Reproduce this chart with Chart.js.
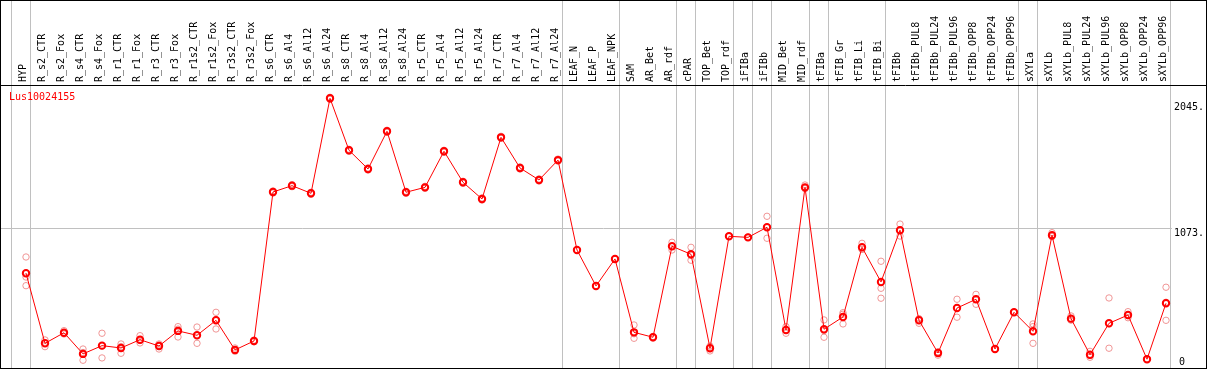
<!DOCTYPE html>
<html>
<head>
<meta charset="utf-8">
<script src="https://cdn.jsdelivr.net/npm/chart.js@4/dist/chart.umd.min.js"></script>
<style>
  html, body { margin: 0; padding: 0; background: #fff; }
  #box { position: absolute; left: 0; top: 0; width: 1205px; height: 367px; border: 1px solid #000; }
</style>
</head>
<body>
<div id="box"><canvas id="chart"></canvas></div>
<script>
// samples, left to right
const cats = ['HYP', 'R_s2_CTR', 'R_s2_Fox', 'R_s4_CTR', 'R_s4_Fox', 'R_r1_CTR', 'R_r1_Fox', 'R_r3_CTR', 'R_r3_Fox',
    'R_r1s2_CTR', 'R_r1s2_Fox', 'R_r3s2_CTR', 'R_r3s2_Fox', 'R_s6_CTR', 'R_s6_Al4', 'R_s6_Al12', 'R_s6_Al24',
    'R_s8_CTR', 'R_s8_Al4', 'R_s8_Al12', 'R_s8_Al24', 'R_r5_CTR', 'R_r5_Al4', 'R_r5_Al12', 'R_r5_Al24',
    'R_r7_CTR', 'R_r7_Al4', 'R_r7_Al12', 'R_r7_Al24', 'LEAF_N', 'LEAF_P', 'LEAF_NPK', 'SAM', 'AR_Bet', 'AR_rdf',
    'cPAR', 'TOP_Bet', 'TOP_rdf', 'iFIBa', 'iFIBb', 'MID_Bet', 'MID_rdf', 'tFIBa', 'tFIB_Gr', 'tFIB_Li', 'tFIB_Bi',
    'tFIBb', 'tFIBb_PUL8', 'tFIBb_PUL24', 'tFIBb_PUL96', 'tFIBb_OPP8', 'tFIBb_OPP24', 'tFIBb_OPP96',
    'sXYLa', 'sXYLb', 'sXYLb_PUL8', 'sXYLb_PUL24', 'sXYLb_PUL96', 'sXYLb_OPP8', 'sXYLb_OPP24', 'sXYLb_OPP96'];

// mean expression (red line)
const means = [725, 183, 265, 101, 165, 147, 211, 162, 279, 245, 361, 132, 201,
    1354, 1403, 1344, 2079, 1677, 1532, 1824, 1352, 1390, 1669, 1429, 1300, 1777, 1540, 1447, 1601,
    905, 627, 836, 268, 230, 934, 872, 145, 1011, 1003, 1081, 286, 1390, 292, 387, 926, 658,
    1058, 361, 108, 456, 524, 139, 423, 276, 1019, 374, 95, 338, 402, 60, 493];

// replicates (pale circles)
const repA = [851, 209, 281, 139, 261, 178, 242, 178, 312, 309, 423, 147, 208,
    1362, 1411, 1352, 2087, 1685, 1540, 1832, 1360, 1398, 1677, 1437, 1308, 1785, 1548, 1455, 1609,
    905, 627, 836, 325, 236, 965, 926, 161, 1011, 1003, 1166, 312, 1408, 364, 420, 957, 818,
    1106, 373, 117, 524, 562, 139, 423, 333, 1039, 395, 121, 534, 428, 60, 617];
const repB = [629, 157, 255, 52, 70, 106, 186, 139, 232, 183, 294, 121, 195,
    1346, 1395, 1336, 2071, 1669, 1524, 1816, 1344, 1382, 1661, 1421, 1292, 1769, 1532, 1439, 1593,
    905, 627, 836, 222, 224, 905, 826, 124, 1011, 1003, 996, 261, 1380, 230, 333, 910, 532,
    1013, 338, 91, 385, 485, 139, 423, 183, 1009, 364, 75, 145, 381, 60, 361];
const repC = [696, 183, 259, 112, 164, 157, 205, 169, 293, 243, 366, 128, 200,
    1354, 1403, 1344, 2079, 1677, 1532, 1824, 1352, 1390, 1669, 1429, 1300, 1777, 1540, 1447, 1601,
    905, 627, 836, 257, 230, 932, 864, 150, 1011, 1003, 1081, 285, 1382, 282, 408, 911, 609,
    1055, 372, 116, 459, 525, 139, 423, 312, 1009, 363, 89, 335, 397, 60, 501];

// sample index after which a group separator is drawn
const groupEnds = [-1, 0, 28, 31, 34, 35, 37, 38, 39, 41, 42, 45, 52, 53, 60];
const yTicks = [0, 1073, 2045];
const geneId = 'Lus10024155';

const font = { family: '"DejaVu Sans Mono", monospace', size: 10 };
const xMin = -1.316, xMax = 62.105;
const yMin = -8, yMax = 2182;

const pts = arr => arr.map((v, i) => ({ x: i, y: v }));

// no extra padding around the plot, the frame is the box border
const noPad = s => { s.paddingLeft = 0; s.paddingRight = 0; s.paddingTop = 0; s.paddingBottom = 0; };

const geneLabel = {
    id: 'geneLabel',
    afterDraw(chart) {
        const { ctx, chartArea } = chart;
        ctx.save();
        ctx.font = '10px "DejaVu Sans Mono", monospace';
        ctx.fillStyle = '#ff0000';
        ctx.textBaseline = 'top';
        ctx.fillText(geneId, chartArea.left + 8, chartArea.top + 7);
        ctx.restore();
    }
};

new Chart(document.getElementById('chart'), {
    type: 'line',
    data: {
        datasets: [
            {
                data: pts(means),
                order: 0,
                borderColor: '#ff0000',
                borderWidth: 1,
                tension: 0,
                pointRadius: 3.2,
                pointBorderWidth: 2,
                pointBorderColor: '#ff0000',
                pointBackgroundColor: 'rgba(0,0,0,0)'
            },
            ...[repA, repB, repC].map(r => ({
                data: pts(r),
                order: 1,
                showLine: false,
                pointRadius: 3.2,
                pointBorderWidth: 1,
                pointBorderColor: '#f09595',
                pointBackgroundColor: 'rgba(0,0,0,0)'
            }))
        ]
    },
    options: {
        responsive: true,
        maintainAspectRatio: false,
        animation: false,
        layout: { padding: 0, autoPadding: false },
        plugins: { legend: { display: false }, tooltip: { enabled: false } },
        scales: {
            x: {
                type: 'linear', position: 'top', min: xMin, max: xMax, weight: 1,
                afterBuildTicks: s => { s.ticks = cats.map((c, i) => ({ value: i })); },
                afterFit: s => { s.height = 84; noPad(s); },
                grid: { display: false, drawTicks: false },
                border: { display: true, color: '#000', width: 1 },
                ticks: {
                    autoSkip: false, minRotation: 90, maxRotation: 90, padding: 3, labelOffset: 5,
                    color: '#000', font: { ...font, lineHeight: 0.8 },
                    callback: v => cats[v]
                }
            },
            xg: {
                type: 'linear', position: 'top', min: xMin, max: xMax, weight: 0,
                afterBuildTicks: s => { s.ticks = groupEnds.map(g => ({ value: g + 0.26 })); },
                afterFit: s => { s.height = 0; noPad(s); },
                grid: { color: '#c0c0c0', lineWidth: 1, drawTicks: true, tickLength: 90 },
                border: { display: false },
                ticks: { display: false }
            },
            y: {
                type: 'linear', position: 'right', min: yMin, max: yMax,
                afterBuildTicks: s => { s.ticks = yTicks.filter(v => v > 0).map(v => ({ value: v })); },
                afterFit: s => { s.width = 0; noPad(s); },
                grid: {
                    drawTicks: false,
                    color: c => (c.tick && c.tick.value === 1073) ? '#c0c0c0' : 'rgba(0,0,0,0)'
                },
                border: { display: false },
                ticks: {
                    mirror: true, padding: -2, align: 'start', color: '#000', font,
                    showLabelBackdrop: true, backdropColor: '#fff', backdropPadding: 2,
                    callback: v => v + '.'
                }
            },
            // same scale, only carries the bottom label, sitting above its line
            y0: {
                type: 'linear', position: 'right', min: yMin, max: yMax,
                afterBuildTicks: s => { s.ticks = yTicks.filter(v => v === 0).map(v => ({ value: v })); },
                afterFit: s => { s.width = 0; noPad(s); },
                grid: { display: false, drawTicks: false },
                border: { display: false },
                ticks: {
                    mirror: true, padding: -21, align: 'end', color: '#000', font,
                    callback: v => String(v)
                }
            }
        }
    },
    plugins: [geneLabel]
});
</script>
</body>
</html>
